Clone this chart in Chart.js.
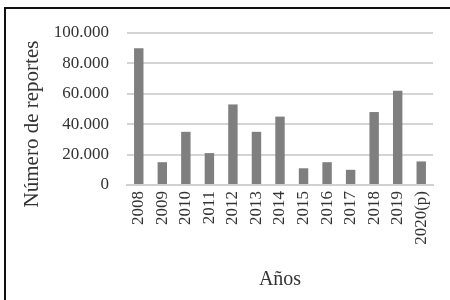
<!DOCTYPE html>
<html>
<head>
<meta charset="utf-8">
<script src="https://cdn.jsdelivr.net/npm/chart.js@4/dist/chart.umd.min.js"></script>
<style>
  html,body{margin:0;padding:0;background:#fff;}
  #wrap{position:relative;width:450px;height:300px;}
  #frame{position:absolute;left:4px;top:7px;right:0;bottom:0;border-top:2px solid #111;border-left:2px solid #111;pointer-events:none;}
</style>
</head>
<body>
<div id="wrap">
  <canvas id="chart" width="450" height="300"></canvas>
  <div id="frame"></div>
</div>
<script>
const years=["2008","2009","2010","2011","2012","2013","2014","2015","2016","2017","2018","2019","2020(p)"];
const reports=[90000,15000,35000,21000,53000,35000,45000,11000,15000,10000,48000,62000,15500];
const yTicks=[0,20000,40000,60000,80000,100000];
const yTitle="Número de reportes";

const serif="'Liberation Serif','Times New Roman',serif";
const fmt=v=>v===0?"0":v.toLocaleString("de-DE");

// y title sits a bit below the plot centre in the original
const yTitlePlugin={
  id:"yTitle",
  afterDraw(chart){
    const c=chart.ctx;
    c.save();
    c.translate(32,124);
    c.rotate(-Math.PI/2);
    c.font="21px "+serif;
    c.fillStyle="#333";
    c.textAlign="center";
    c.textBaseline="middle";
    c.fillText(yTitle,0,0);
    c.restore();
  }
};

const ctx=document.getElementById("chart");
new Chart(ctx,{
  type:"bar",
  data:{
    labels:years,
    datasets:[{
      data:reports,
      backgroundColor:"#7f7f7f",
      categoryPercentage:1,
      barPercentage:0.4
    }]
  },
  options:{
    responsive:false,
    animation:false,
    layout:{padding:{left:12,right:17,top:33,bottom:0}},
    plugins:{legend:{display:false},tooltip:{enabled:false}},
    scales:{
      x:{
        grid:{display:false,drawTicks:false},
        border:{color:"#d0d0d0",width:2},
        ticks:{font:{family:serif,size:17},color:"#333",maxRotation:90,minRotation:90,padding:6},
        title:{display:true,text:"Años",font:{family:serif,size:20},color:"#333",padding:{top:4,bottom:8}},
        afterFit:s=>{s.height=115;}
      },
      y:{
        min:0,max:100000,
        afterBuildTicks:s=>{s.ticks=yTicks.map(v=>({value:v}));},
        grid:{color:"#d4d4d4",lineWidth:2,drawTicks:false},
        border:{display:false},
        ticks:{font:{family:serif,size:17},color:"#333",padding:18,callback:v=>fmt(v)},
        afterFit:s=>{s.width=115;}
      }
    }
  },
  plugins:[yTitlePlugin]
});
</script>
</body>
</html>
